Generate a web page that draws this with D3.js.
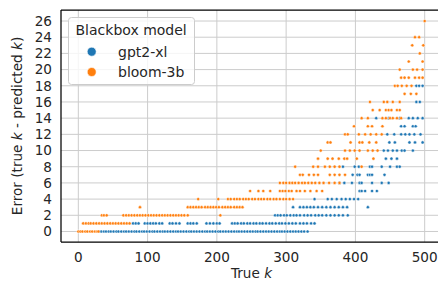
<!DOCTYPE html>
<html>
<head>
<meta charset="utf-8">
<script src="https://cdn.jsdelivr.net/npm/d3@7"></script>
<style>
  body { margin: 0; background: #fff; }
  svg text { font-family: "DejaVu Sans", sans-serif; fill: #262626; }
</style>
</head>
<body>
<div id="chart"></div>
<script>
// error rows: true k values that land on each error level, per model
const models = ["gpt2-xl", "bloom-3b"]
const colors = ["#1f77b4", "#ff7f0e"]

const gptRows = {
  0: [30,33,37,40,44,47,51,55,58,62,66,69,73,77,81,84,88,92,95,99,103,107,110,114,118,122,125,129,133,137,141,144,148,152,156,160,163,167,171,175,179,183,186,190,194,198,202,205,209,213,217,221,225,229,232,236,240,244,248,252,256,259,263,267,271,275,279,283,287,291,294,298,302,306,310,314,318,322,326,331],
  1: [79,83,87,96,100,104,108,112,117,121,132,136,141,146,158,162,166,171,185,190,195,200,204,222,226,230,235,239,244,248,253,257,262,266,271,276,280,285,290,294,299,304,309,314,320,325,330,336,341],
  2: [284,288,292,297,301,306,311,315,320,326,331,336,342,347,352,358,364,370,376,382,389],
  3: [310,320,325,330,335,340,346,352,358,364,370,376,382,388,418],
  4: [341,360,366,373,380,386,392,398,404],
  5: [406,409,414,424,431],
  6: [377,384,395,406,409,424,438,448],
  7: [396,403,406,418,421,424,442],
  8: [382,399,405,421,424,438,450,460,464],
  9: [444,452,460],
  10: [441,447,454,460,467,471,483],
  11: [449,457,478,486,497],
  12: [446,456,466,472,478,485,494],
  13: [466,471,483,487],
  14: [430,448,464,477,483,490,497],
  16: [488,493],
  18: [488,492,497]
}

const bloomRows = {
  0: [0,3,6,10,13,17,20,24,27,29],
  1: [7,11,15,18,22,26,30,34,38,42,46,50,54,58,62,66,70,74],
  2: [34,37,41,65,69,73,77,81,85,89,93,97,101,105,109,113,117,121,125,129,133,137,141,145,149,153,158,205],
  3: [89,158,162,166,170,174,178,183,187,191,195,199,203,208,212,216,220,225,229,233,237],
  4: [173,202,216,220,225,229,233,238,242,246,251,255,260,264,268,273,277,282,286,291,296,300,305,310],
  5: [248,260,267,277,291,295,299,304,308,315,320,327,335,344,352],
  6: [291,296,300,305,309,313,318,323,327,332,337,342,348,354,362,370,377],
  7: [320,324,333,340,346,363,370,377,385],
  8: [313,339,346,356,363,370,377,409],
  9: [346,360,367,376,384,388,402,426],
  10: [350,385,392,399,406,418,425,432],
  11: [360,364,393,406,410,420,430],
  12: [385,389,405,414,422,430,438],
  13: [398,418,424,439],
  14: [409,418,439,444,450,454,460,466],
  15: [425,435,444,448,452,460,464],
  16: [421,441,446,454,464],
  17: [471,480,488],
  18: [457,461,467,474,481],
  19: [466,471,477,486,492,497],
  20: [464,483,489,497],
  21: [477,497],
  22: [493],
  23: [482,498],
  24: [486,492],
  26: [500]
}

const xTicks = [0, 100, 200, 300, 400, 500]
const yTicks = d3.range(0, 27, 2)

const width = 438, height = 282
const svg = d3.select("#chart").append("svg")
  .attr("width", width)
  .attr("height", height)

const x = d3.scaleLinear().domain([-25, 525]).range([61, 442])
const y = d3.scaleLinear().domain([-1.3, 27.3]).range([242, 10.5])

// grid
svg.append("g").selectAll("line")
  .data(xTicks).enter().append("line")
  .attr("x1", d => x(d)).attr("x2", d => x(d))
  .attr("y1", 10).attr("y2", 242)
  .attr("stroke", "#cccccc").attr("stroke-width", 1)
svg.append("g").selectAll("line")
  .data(yTicks).enter().append("line")
  .attr("x1", 61).attr("x2", 442)
  .attr("y1", d => y(d)).attr("y2", d => y(d))
  .attr("stroke", "#cccccc").attr("stroke-width", 1)

// points
function flatten(rows, model) {
  const out = []
  Object.keys(rows).forEach(e => rows[e].forEach(k => out.push({k: k, err: +e, model: model})))
  return out
}
const points = flatten(gptRows, 0).concat(flatten(bloomRows, 1))

svg.append("g").selectAll("circle")
  .data(points).enter().append("circle")
  .attr("cx", d => x(d.k))
  .attr("cy", d => y(d.err))
  .attr("r", 1.6)
  .attr("fill", d => colors[d.model])
  .attr("stroke", "#fff")
  .attr("stroke-width", 0.5)

// spines
svg.append("line").attr("x1", 61).attr("x2", 61).attr("y1", 10).attr("y2", 242)
  .attr("stroke", "#000").attr("stroke-width", 1.25)
svg.append("line").attr("x1", 61).attr("x2", 442).attr("y1", 10).attr("y2", 10)
  .attr("stroke", "#000").attr("stroke-width", 1.25)
svg.append("line").attr("x1", 61).attr("x2", 442).attr("y1", 242).attr("y2", 242)
  .attr("stroke", "#000").attr("stroke-width", 1.25)

// tick labels
svg.append("g").selectAll("text")
  .data(xTicks).enter().append("text")
  .attr("x", d => x(d)).attr("y", 262)
  .attr("text-anchor", "middle")
  .style("font-size", "13.6px")
  .text(d => d)
svg.append("g").selectAll("text")
  .data(yTicks).enter().append("text")
  .attr("x", 52).attr("y", d => y(d))
  .attr("dy", "0.36em")
  .attr("text-anchor", "end")
  .style("font-size", "13.6px")
  .text(d => d)

// axis labels
const xl = svg.append("text")
  .attr("x", 251.5).attr("y", 278)
  .attr("text-anchor", "middle")
  .style("font-size", "13.6px")
xl.append("tspan").text("True ")
xl.append("tspan").style("font-style", "italic").text("k")

const yl = svg.append("text")
  .attr("transform", "translate(22,126) rotate(-90)")
  .attr("text-anchor", "middle")
  .style("font-size", "13.6px")
yl.append("tspan").text("Error (true ")
yl.append("tspan").style("font-style", "italic").text("k")
yl.append("tspan").text(" - predicted ")
yl.append("tspan").style("font-style", "italic").text("k")
yl.append("tspan").text(")")

// legend
const lg = svg.append("g")
lg.append("rect")
  .attr("x", 68.5).attr("y", 17.5).attr("width", 126).attr("height", 67)
  .attr("rx", 3)
  .attr("fill", "#fff").attr("fill-opacity", 0.8)
  .attr("stroke", "#cccccc")
lg.append("text")
  .attr("x", 75.5).attr("y", 30)
  .attr("dy", "0.36em")
  .style("font-size", "14px")
  .text("Blackbox model")
models.forEach((m, i) => {
  lg.append("circle")
    .attr("cx", 91.7).attr("cy", 51.7 + i * 20.3)
    .attr("r", 4.5)
    .attr("fill", colors[i])
    .attr("stroke", "#fff").attr("stroke-width", 0.6)
  lg.append("text")
    .attr("x", 118).attr("y", 51.7 + i * 20.3)
    .attr("dy", "0.36em")
    .style("font-size", "14px")
    .text(m)
})
</script>
</body>
</html>
